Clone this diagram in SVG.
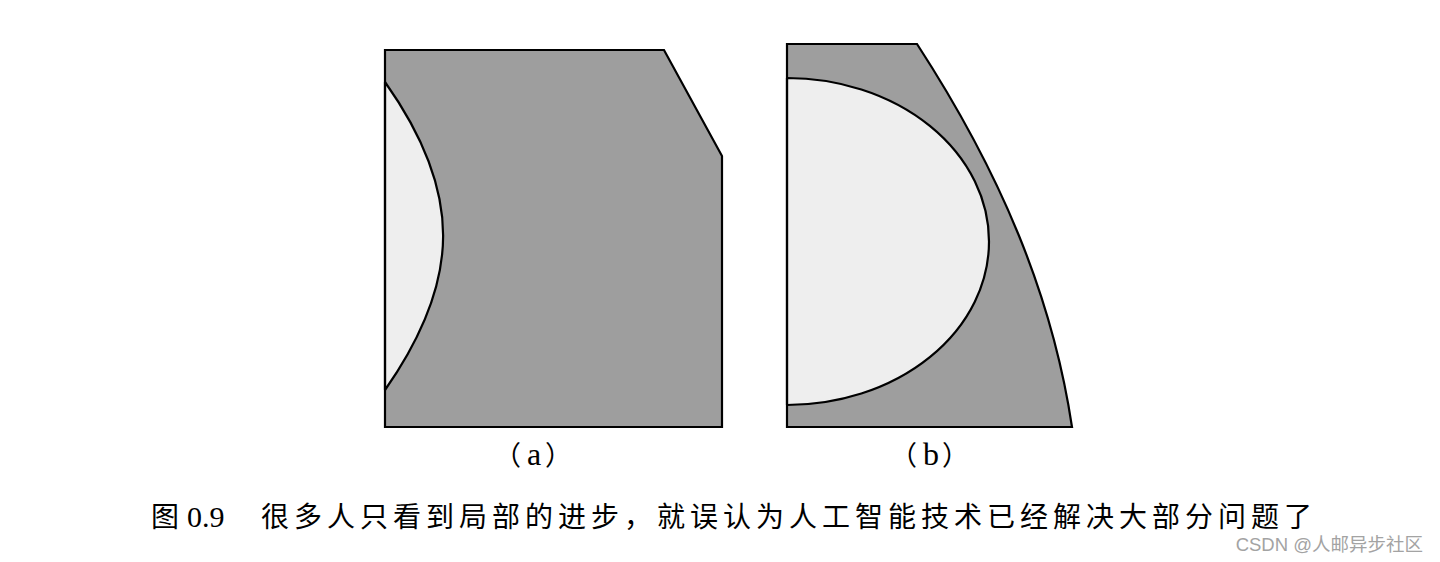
<svg xmlns="http://www.w3.org/2000/svg" width="1440" height="562" viewBox="0 0 1440 562">
<style>
.dark{fill:#9e9e9e;stroke:none}
.light{fill:#eeeeee;stroke:#000;stroke-width:2.2;stroke-linejoin:round}
.edge{fill:none;stroke:#000;stroke-width:2.2;stroke-linejoin:miter}
.lbl{font-family:"Liberation Serif","Noto Sans CJK SC",serif;font-size:32px;fill:#000}
.par{font-family:"Noto Sans CJK SC",serif;font-size:27px}
.cap{font-family:"Liberation Serif","Noto Sans CJK SC",sans-serif;font-size:28px;fill:#000;letter-spacing:5px}
.num{font-family:"Liberation Serif",serif;font-size:30px;letter-spacing:0}
.wm{font-family:"Liberation Sans","Noto Sans CJK SC",sans-serif;font-size:18.5px;fill:#a3a3a3}
</style>
<rect width="1440" height="562" fill="#fff"/>
<g id="figure-a">
<polygon class="dark" points="385,50 664,50 722,156 722,427 385,427"/>
<path class="light" d="M385,82 C463,192 462,280 385,390 Z"/>
<polygon class="edge" points="385,50 664,50 722,156 722,427 385,427"/>
<text class="lbl" y="465"><tspan class="par" x="494">（</tspan><tspan x="527">a</tspan><tspan class="par" x="545">）</tspan></text>
</g>
<g id="figure-b">
<path class="dark" d="M787,44 L917,44 C1001.5,174 1052.5,297 1072,427 L787,427 Z"/>
<path class="light" d="M787,78 A202,163.5 0 0 1 787,405 Z"/>
<path class="edge" d="M787,44 L917,44 C1001.5,174 1052.5,297 1072,427 L787,427 Z"/>
<text class="lbl" y="465"><tspan class="par" x="890">（</tspan><tspan x="923">b</tspan><tspan class="par" x="942">）</tspan></text>
</g>
<g id="caption">
<text class="cap" y="527"><tspan x="151">图</tspan><tspan class="num" x="187">0.9</tspan><tspan x="261">很多人只看到局部的进步，就误认为人工智能技术已经解决大部分问题了</tspan></text>
</g>
<g id="watermark">
<text class="wm" x="1423" y="551" text-anchor="end">CSDN @人邮异步社区</text>
</g>
</svg>
